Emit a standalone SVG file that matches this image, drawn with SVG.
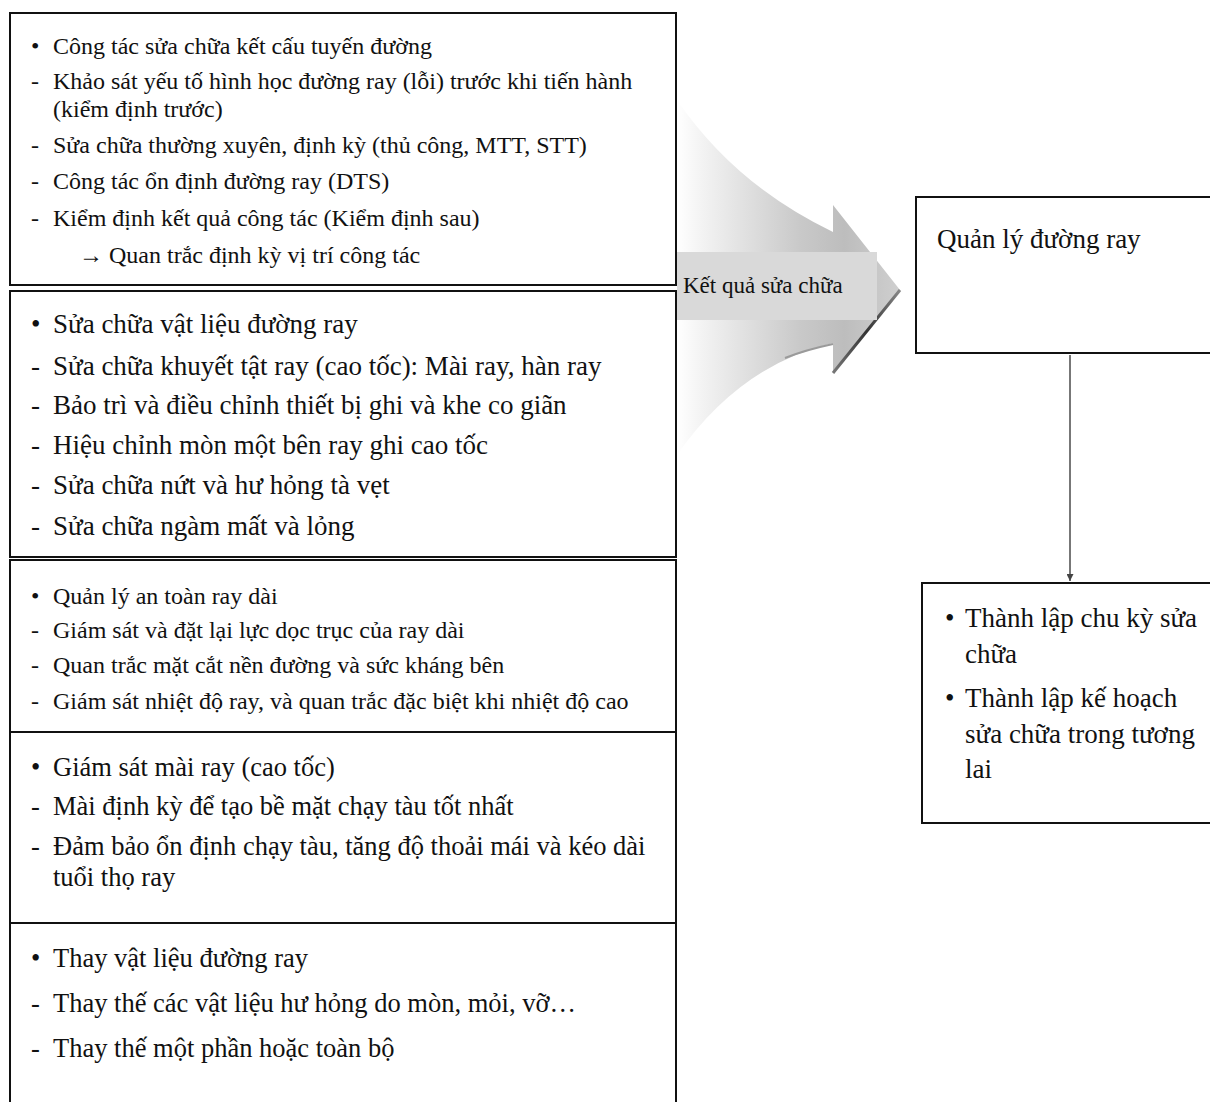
<svg xmlns="http://www.w3.org/2000/svg" width="1210" height="1102" viewBox="0 0 1210 1102">
  <style>
    .box { fill: #ffffff; stroke: #111111; stroke-width: 2; }
    .t { font-family: "Liberation Serif", "Times New Roman", serif; fill: #111111; }
    .s24 { font-size: 24px; }
    .s27 { font-size: 27px; }
    .s26 { font-size: 26.5px; }
    .lbl { font-family: "Liberation Serif", "Times New Roman", serif; font-size: 23px; fill: #111111; }
  </style>
  <defs>
    <linearGradient id="arrowFill" x1="677" y1="0" x2="900" y2="0" gradientUnits="userSpaceOnUse">
      <stop offset="0" stop-color="#ffffff"/>
      <stop offset="0.12" stop-color="#f2f2f2"/>
      <stop offset="0.55" stop-color="#c9c9c9"/>
      <stop offset="0.75" stop-color="#bdbdbd"/>
      <stop offset="1" stop-color="#cfcfcf"/>
    </linearGradient>
    <linearGradient id="edgeShade" x1="900" y1="290" x2="833" y2="373" gradientUnits="userSpaceOnUse">
      <stop offset="0" stop-color="#888888"/>
      <stop offset="0.5" stop-color="#333333"/>
      <stop offset="1" stop-color="#777777"/>
    </linearGradient>
    <marker id="arrowDown" viewBox="0 0 10 10" refX="10" refY="5" markerWidth="9" markerHeight="7" orient="auto" markerUnits="userSpaceOnUse">
      <path d="M0,0 L10,5 L0,10 Z" fill="#444444"/>
    </marker>
  </defs>

  <rect width="1210" height="1102" fill="#ffffff"/>

  <!-- big curved arrow carrying the repair results to track management -->
  <g id="result-arrow">
    <path d="M677,100 Q735,185 833,232 L833,205 L900,290 L833,373 L833,343 Q740,365 677,455 Z" fill="url(#arrowFill)"/>
    <path d="M900,290 L833,373" fill="none" stroke="url(#edgeShade)" stroke-width="3"/>
    <path d="M833,344 Q805,350 785,358" fill="none" stroke="#9a9a9a" stroke-width="2"/>
    <rect x="677" y="252" width="200" height="68" fill="#d9d9d9"/>
    <text class="lbl" x="683" y="293">Kết quả sửa chữa</text>
  </g>

  <!-- left column: repair work categories -->
  <g id="box-structure">
    <rect class="box" x="10" y="13" width="666" height="272"/>
    <text class="t s24" x="31" y="54">•</text>
    <text class="t s24" x="53" y="54">Công tác sửa chữa kết cấu tuyến đường</text>
    <text class="t s24" x="31" y="89">-</text>
    <text class="t s24" x="53" y="89">Khảo sát yếu tố hình học đường ray (lỗi) trước khi tiến hành</text>
    <text class="t s24" x="53" y="117">(kiểm định trước)</text>
    <text class="t s24" x="31" y="153">-</text>
    <text class="t s24" x="53" y="153">Sửa chữa thường xuyên, định kỳ (thủ công, MTT, STT)</text>
    <text class="t s24" x="31" y="189">-</text>
    <text class="t s24" x="53" y="189">Công tác ổn định đường ray (DTS)</text>
    <text class="t s24" x="31" y="226">-</text>
    <text class="t s24" x="53" y="226">Kiểm định kết quả công tác (Kiểm định sau)</text>
    <text class="t s24" x="79" y="263">→ Quan trắc định kỳ vị trí công tác</text>
  </g>

  <g id="box-material">
    <rect class="box" x="10" y="291" width="666" height="266"/>
    <text class="t s27" x="31" y="333">•</text>
    <text class="t s27" x="53" y="333">Sửa chữa vật liệu đường ray</text>
    <text class="t s27" x="31" y="375">-</text>
    <text class="t s27" x="53" y="375">Sửa chữa khuyết tật ray (cao tốc): Mài ray, hàn ray</text>
    <text class="t s27" x="31" y="414">-</text>
    <text class="t s27" x="53" y="414">Bảo trì và điều chỉnh thiết bị ghi và khe co giãn</text>
    <text class="t s27" x="31" y="454">-</text>
    <text class="t s27" x="53" y="454">Hiệu chỉnh mòn một bên ray ghi cao tốc</text>
    <text class="t s27" x="31" y="494">-</text>
    <text class="t s27" x="53" y="494">Sửa chữa nứt và hư hỏng tà vẹt</text>
    <text class="t s27" x="31" y="535">-</text>
    <text class="t s27" x="53" y="535">Sửa chữa ngàm mất và lỏng</text>
  </g>

  <g id="box-long-rail">
    <rect class="box" x="10" y="560" width="666" height="172"/>
    <text class="t s24" x="31" y="604">•</text>
    <text class="t s24" x="53" y="604">Quản lý an toàn ray dài</text>
    <text class="t s24" x="31" y="638">-</text>
    <text class="t s24" x="53" y="638">Giám sát và đặt lại lực dọc trục của ray dài</text>
    <text class="t s24" x="31" y="673">-</text>
    <text class="t s24" x="53" y="673">Quan trắc mặt cắt nền đường và sức kháng bên</text>
    <text class="t s24" x="31" y="709">-</text>
    <text class="t s24" x="53" y="709">Giám sát nhiệt độ ray, và quan trắc đặc biệt khi nhiệt độ cao</text>
  </g>

  <g id="box-grinding">
    <rect class="box" x="10" y="732" width="666" height="191"/>
    <text class="t s26" x="31" y="776">•</text>
    <text class="t s26" x="53" y="776">Giám sát mài ray (cao tốc)</text>
    <text class="t s26" x="31" y="815">-</text>
    <text class="t s26" x="53" y="815">Mài định kỳ để tạo bề mặt chạy tàu tốt nhất</text>
    <text class="t s26" x="31" y="855">-</text>
    <text class="t s26" x="53" y="855">Đảm bảo ổn định chạy tàu, tăng độ thoải mái và kéo dài</text>
    <text class="t s26" x="53" y="886">tuổi thọ ray</text>
  </g>

  <g id="box-replacement">
    <rect class="box" x="10" y="923" width="666" height="200"/>
    <text class="t s26" x="31" y="967">•</text>
    <text class="t s26" x="53" y="967">Thay vật liệu đường ray</text>
    <text class="t s26" x="31" y="1012">-</text>
    <text class="t s26" x="53" y="1012">Thay thế các vật liệu hư hỏng do mòn, mỏi, vỡ…</text>
    <text class="t s26" x="31" y="1057">-</text>
    <text class="t s26" x="53" y="1057">Thay thế một phần hoặc toàn bộ</text>
  </g>

  <!-- right column -->
  <g id="box-track-management">
    <rect class="box" x="916" y="197" width="300" height="156"/>
    <text class="t s27" x="937" y="248">Quản lý đường ray</text>
  </g>

  <g id="box-planning">
    <rect class="box" x="922" y="583" width="300" height="240"/>
    <text class="t s27" x="945" y="627">•</text>
    <text class="t s27" x="965" y="627">Thành lập chu kỳ sửa</text>
    <text class="t s27" x="965" y="663">chữa</text>
    <text class="t s27" x="945" y="707">•</text>
    <text class="t s27" x="965" y="707">Thành lập kế hoạch</text>
    <text class="t s27" x="965" y="743">sửa chữa trong tương</text>
    <text class="t s27" x="965" y="778">lai</text>
  </g>

  <g id="connectors">
    <line x1="1070" y1="355" x2="1070" y2="581" stroke="#777777" stroke-width="2" marker-end="url(#arrowDown)"/>
  </g>
</svg>
